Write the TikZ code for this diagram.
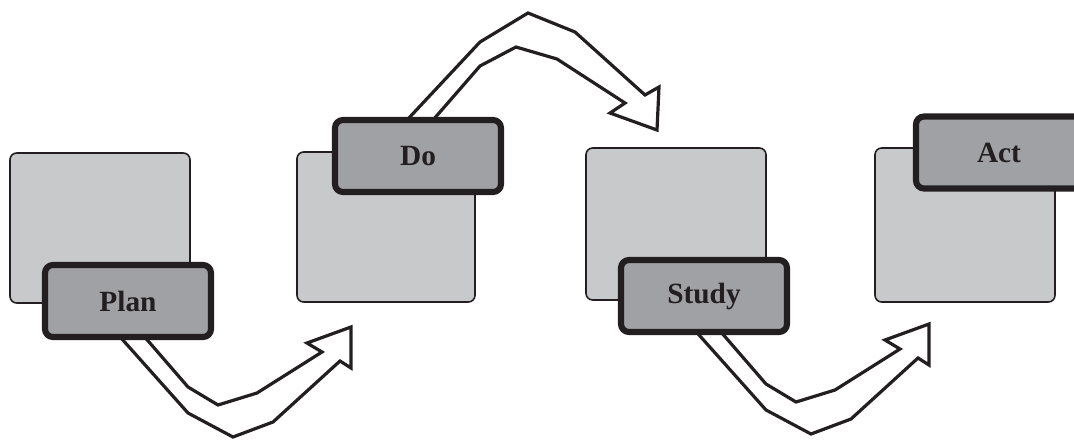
\documentclass[tikz,border=0pt]{standalone}
\usepackage{fontspec}
\setmainfont{Liberation Serif}
\definecolor{lightbox}{HTML}{C8C9CB}
\definecolor{labelbox}{HTML}{A0A1A4}
\definecolor{inkdark}{HTML}{231F20}
\begin{document}
\begin{tikzpicture}[x=0.75pt,y=-0.75pt,
  bigbox/.style={draw=inkdark,fill=lightbox,line width=1.2pt,rounded corners=5pt},
  labelnode/.style={draw=inkdark,fill=labelbox,line width=4.6pt,rounded corners=6pt,
     minimum width=124.5pt,minimum height=54pt,inner sep=0pt,
     text=inkdark,font=\fontsize{22}{26}\selectfont\bfseries},
  blockarrow/.style={draw=inkdark,fill=white,line width=2.4pt,line join=miter,miter limit=4}]
\useasboundingbox (0,0) rectangle (1074,439);
% large background boxes
\draw[bigbox] (10,153) rectangle (190,303);
\draw[bigbox] (297,152) rectangle (475,302);
\draw[bigbox] (586,148) rectangle (766,300);
\draw[bigbox] (875,148) rectangle (1055,302);
% block arrows
\draw[blockarrow] (105,320) -- (188,413) -- (233,437) -- (273,422) -- (340,361) -- (351,368)
  -- (351,327) -- (307,343) -- (322,352) -- (257,393) -- (218,405) -- (188,387) -- (130,320) -- cycle;
\draw[blockarrow] (393,135) -- (480,42) -- (528,13) -- (575,32) -- (645,95) -- (659,87)
  -- (657,130) -- (610,113) -- (625,103) -- (557,59) -- (516,47) -- (480,66) -- (420,135) -- cycle;
\begin{scope}[shift={(578,-3)}]
\draw[blockarrow] (105,320) -- (188,413) -- (233,437) -- (273,422) -- (340,361) -- (351,368)
  -- (351,327) -- (307,343) -- (322,352) -- (257,393) -- (218,405) -- (188,387) -- (130,320) -- cycle;
\end{scope}
% labels
\node[labelnode] (plan) at (128,301) {Plan};
\node[labelnode] (do) at (418,156) {Do};
\node[labelnode] (study) at (704,296) {Study};
\node[labelnode] (act) at (999,152.5) {Act};
\end{tikzpicture}
\end{document}
